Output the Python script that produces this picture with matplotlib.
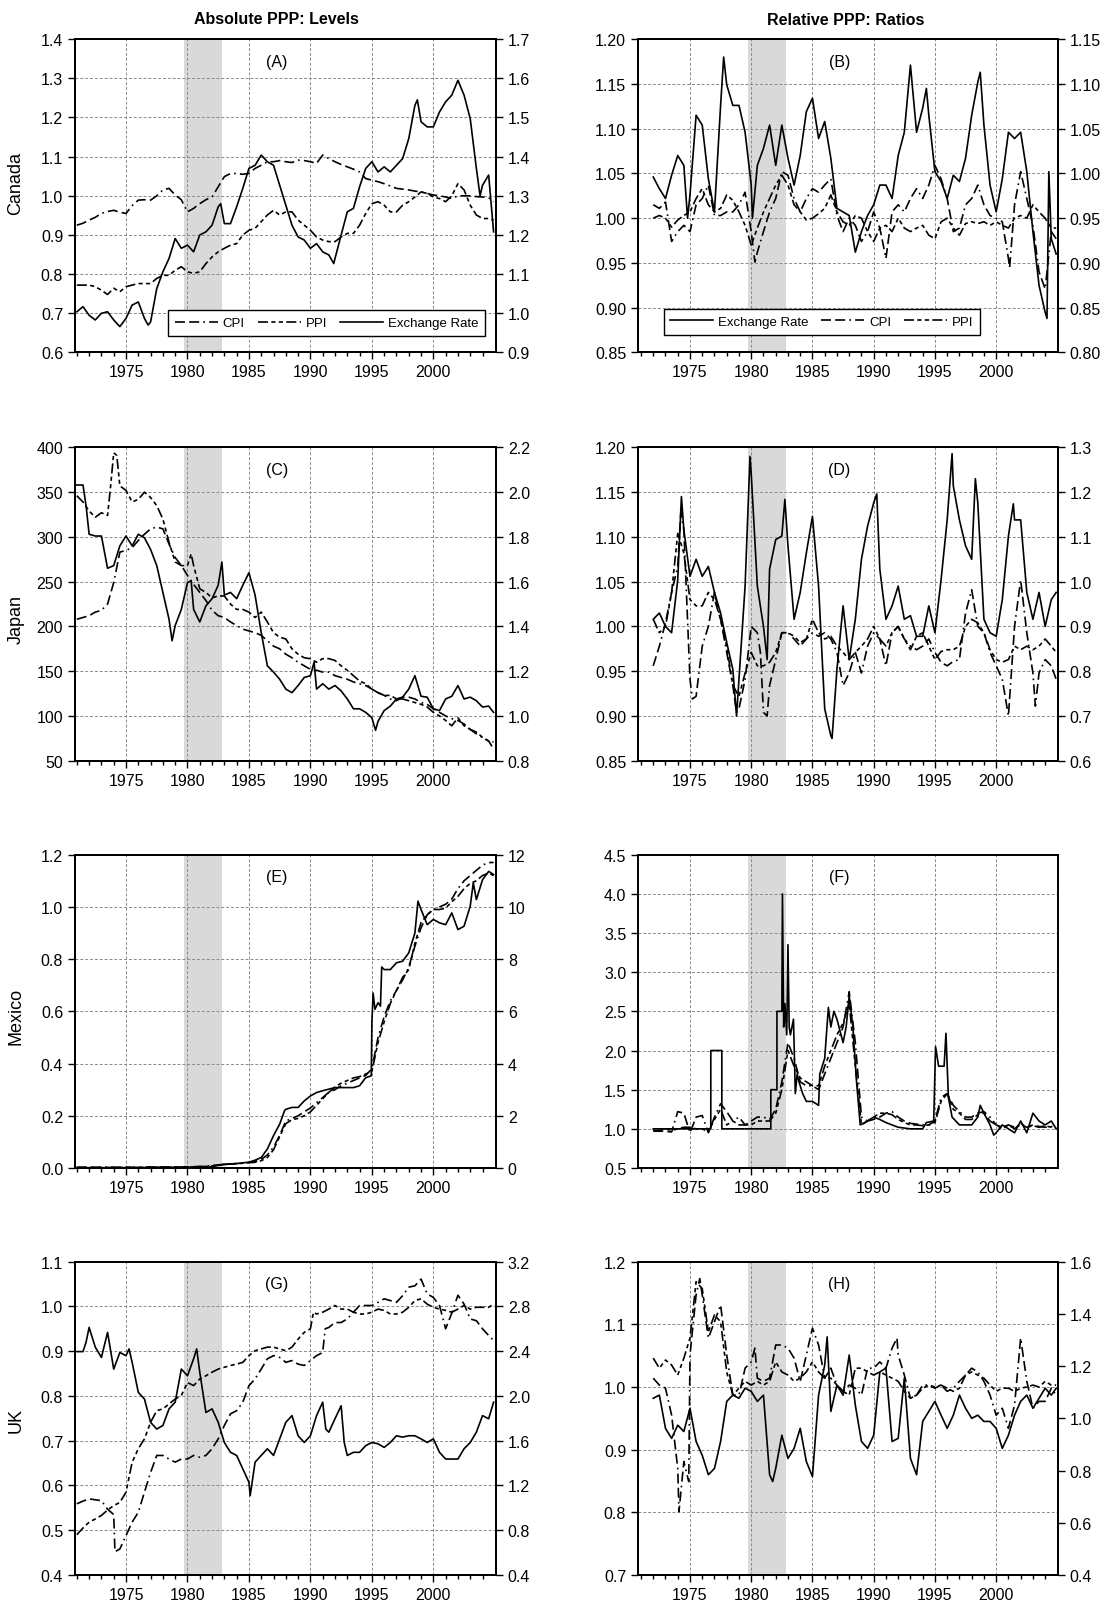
import numpy as np
import matplotlib
matplotlib.use('Agg')
import matplotlib.pyplot as plt
from matplotlib.ticker import FixedLocator, FormatStrFormatter

plt.rcParams['font.family'] = ['Liberation Sans', 'DejaVu Sans']

# time grids (half-yearly readings + last obs)
t_lev = np.append(np.arange(1971, 2005, 0.5), 2004.9)
t_rat = np.append(np.arange(1972, 2005, 0.5), 2004.9)

shade_start, shade_end = 1979.75, 1982.8

# ---------------- (A) Canada levels ----------------
ca_cpi = [0.925, 0.93, 0.938, 0.945, 0.955, 0.96, 0.963, 0.958, 0.955, 0.975,
          0.989, 0.99, 0.989, 1.0, 1.015, 1.019, 1.002, 0.99, 0.959, 0.968,
          0.98, 0.99, 0.997, 1.023, 1.049, 1.057, 1.057, 1.055, 1.057, 1.07,
          1.078, 1.087, 1.087, 1.09, 1.087, 1.085, 1.091, 1.09, 1.087, 1.083,
          1.104, 1.095, 1.087, 1.08, 1.074, 1.068, 1.061, 1.044, 1.04, 1.036,
          1.031, 1.025, 1.019, 1.017, 1.015, 1.012, 1.01, 1.006, 1.002, 1.0,
          0.997, 0.993, 1.0, 1.0, 1.0, 0.998, 0.997, 0.995, 0.985]
ca_ppi = [0.772, 0.772, 0.772, 0.768, 0.759, 0.748, 0.764, 0.755, 0.768, 0.772,
          0.776, 0.776, 0.776, 0.789, 0.797, 0.797, 0.81, 0.819, 0.806, 0.802,
          0.806, 0.827, 0.844, 0.857, 0.866, 0.874, 0.878, 0.9, 0.912, 0.917,
          0.934, 0.951, 0.963, 0.951, 0.959, 0.959, 0.938, 0.925, 0.912, 0.895,
          0.887, 0.883, 0.883, 0.895, 0.904, 0.904, 0.925, 0.955, 0.98, 0.985,
          0.976, 0.959, 0.959, 0.976, 0.985, 0.997, 1.01, 1.006, 0.997, 0.993,
          0.985, 1.0, 1.031, 1.015, 0.976, 0.951, 0.942, 0.942, 0.938]
ca_er = [1.004, 1.017, 0.995, 0.983, 1.0, 1.004, 0.983, 0.966, 0.987, 1.021,
         1.029, 0.987, 0.978, 1.063, 1.106, 1.14, 1.191, 1.166, 1.174, 1.157,
         1.2, 1.208, 1.225, 1.272, 1.229, 1.229, 1.272, 1.319, 1.37, 1.378,
         1.404, 1.387, 1.378, 1.327, 1.276, 1.225, 1.195, 1.187, 1.166, 1.178,
         1.157, 1.149, 1.14, 1.2, 1.259, 1.268, 1.323, 1.37, 1.387, 1.361,
         1.374, 1.361, 1.378, 1.395, 1.446, 1.531, 1.489, 1.476, 1.476, 1.514,
         1.54, 1.557, 1.595, 1.557, 1.497, 1.37, 1.327, 1.353, 1.208]
ca_er_extra = [(1976.8, 0.97), (1982.7, 1.28), (1991.9, 1.127), (1998.7, 1.545), (2003.8, 1.3)]

# ---------------- (B) Canada ratios ----------------
car_er = [1.046, 1.033, 1.022, 1.048, 1.07, 1.059, 1.026, 1.115, 1.104, 1.044,
          1.007, 1.126, 1.149, 1.126, 1.126, 1.096, 1.037, 1.059, 1.078, 1.104,
          1.059, 1.104, 1.067, 1.037, 1.07, 1.119, 1.134, 1.089, 1.108, 1.067,
          1.011, 1.007, 1.003, 0.962, 0.985, 1.003, 1.015, 1.037, 1.037, 1.022,
          1.07, 1.096, 1.171, 1.096, 1.123, 1.115, 1.052, 1.041, 1.022, 1.048,
          1.041, 1.067, 1.115, 1.152, 1.104, 1.037, 1.007, 1.044, 1.096, 1.089,
          1.096, 1.052, 0.985, 0.925, 0.895, 0.977, 0.96]
car_er_extra = [(1974.8, 1.0), (1977.75, 1.18), (1980.1, 1.0), (1994.3, 1.145),
                (1998.7, 1.163), (2004.15, 0.888), (2004.3, 1.052)]
car_cpi = [1.015, 1.011, 1.018, 0.974, 0.985, 0.992, 0.985, 1.015, 1.022, 1.037,
           1.003, 1.003, 1.007, 1.007, 1.015, 1.029, 0.985, 0.962, 0.985, 1.007,
           1.022, 1.052, 1.048, 1.022, 1.007, 1.022, 1.033, 1.029, 1.037, 1.044,
           1.003, 0.985, 1.0, 0.992, 0.974, 0.985, 1.007, 0.989, 0.955, 1.007,
           1.015, 1.007, 1.022, 1.033, 1.022, 1.037, 1.059, 1.044, 1.022, 0.985,
           0.989, 1.015, 1.022, 1.037, 1.015, 1.003, 1.0, 0.996, 0.955, 1.015,
           1.052, 1.022, 0.992, 0.94, 0.921, 0.985, 0.977]
car_cpi_extra = [(1980.3, 0.951), (2001.1, 0.945)]
car_ppi = [1.0, 1.003, 1.0, 0.99, 0.998, 1.003, 1.007, 1.022, 1.033, 1.015,
           1.007, 1.011, 1.026, 1.02, 1.007, 0.992, 0.97, 0.989, 1.007, 1.022,
           1.037, 1.048, 1.037, 1.015, 1.007, 0.998, 1.0, 1.005, 1.011, 1.026,
           1.007, 0.996, 0.992, 1.003, 1.0, 0.985, 0.974, 0.989, 0.992, 0.985,
           1.0, 0.989, 0.985, 0.989, 0.992, 0.981, 0.977, 0.996, 1.0, 0.989,
           0.981, 0.994, 0.996, 0.994, 0.996, 0.992, 0.996, 0.992, 0.989, 1.0,
           1.003, 1.0, 1.015, 1.007, 1.0, 0.989, 0.989]

# ---------------- (C) Japan levels ----------------
jp_er = [358, 358, 303, 301, 301, 265, 268, 290, 301, 290,
         303, 299, 286, 268, 238, 208, 201, 219, 249, 219,
         205, 223, 231, 246, 235, 238, 231, 246, 260, 235,
         193, 156, 149, 141, 130, 126, 134, 143, 145, 130,
         136, 130, 134, 128, 119, 108, 108, 104, 98, 94,
         106, 111, 119, 121, 130, 145, 122, 121, 108, 106,
         119, 122, 134, 119, 121, 117, 110, 111, 104]
jp_er_extra = [(1971.75, 335), (1978.75, 184), (1980.3, 251), (1982.8, 272),
               (1990.3, 160), (1995.3, 84)]
jp_ppi = [1.984, 1.956, 1.916, 1.888, 1.908, 1.896, 2.176, 2.028, 2.008, 1.956,
          1.968, 2.0, 1.976, 1.94, 1.88, 1.776, 1.688, 1.672, 1.672, 1.672,
          1.568, 1.552, 1.528, 1.536, 1.536, 1.5, 1.476, 1.476, 1.464, 1.44,
          1.464, 1.42, 1.372, 1.352, 1.344, 1.3, 1.276, 1.26, 1.256, 1.24,
          1.256, 1.256, 1.248, 1.224, 1.204, 1.18, 1.156, 1.144, 1.12, 1.104,
          1.092, 1.092, 1.076, 1.076, 1.068, 1.06, 1.052, 1.04, 1.016, 1.0,
          0.98, 0.956, 0.992, 0.956, 0.94, 0.928, 0.904, 0.888, 0.884]
jp_ppi_extra = [(1973.75, 2.028), (1974.25, 2.164), (1980.3, 1.724)]
jp_cpi = [1.432, 1.44, 1.448, 1.464, 1.472, 1.5, 1.596, 1.732, 1.74, 1.752,
          1.784, 1.812, 1.836, 1.844, 1.836, 1.768, 1.708, 1.672, 1.628, 1.588,
          1.552, 1.516, 1.472, 1.448, 1.44, 1.42, 1.404, 1.388, 1.38, 1.372,
          1.36, 1.336, 1.312, 1.3, 1.276, 1.26, 1.24, 1.224, 1.208, 1.204,
          1.196, 1.196, 1.18, 1.172, 1.164, 1.152, 1.144, 1.136, 1.12, 1.104,
          1.092, 1.076, 1.068, 1.084, 1.084, 1.076, 1.06, 1.052, 1.032, 1.016,
          1.0, 0.988, 0.98, 0.964, 0.94, 0.92, 0.904, 0.888, 0.852]

# ---------------- (D) Japan ratios ----------------
jpr_er = [1.008, 1.015, 1.0, 0.993, 1.052, 1.108, 1.056, 1.075, 1.056, 1.067,
          1.038, 1.015, 0.982, 0.952, 0.941, 1.045, 1.171, 1.045, 1.0, 1.064,
          1.097, 1.101, 1.09, 1.008, 1.038, 1.082, 1.123, 1.045, 0.908, 0.878,
          0.952, 1.023, 0.963, 1.008, 1.075, 1.112, 1.138, 1.064, 1.008, 1.023,
          1.045, 1.008, 1.012, 0.989, 0.989, 1.023, 0.993, 1.052, 1.119, 1.157,
          1.119, 1.09, 1.075, 1.138, 1.008, 0.993, 0.989, 1.03, 1.101, 1.119,
          1.119, 1.038, 1.008, 1.038, 1.0, 1.03, 1.038]
jpr_er_extra = [(1974.3, 1.145), (1978.8, 0.90), (1979.9, 1.19), (1981.3, 0.963),
                (1982.75, 1.142), (1986.6, 0.875), (1990.25, 1.148), (1996.4, 1.193),
                (1998.3, 1.165), (2001.4, 1.137)]
jpr_cpi = [0.956, 0.978, 1.004, 1.038, 1.067, 1.108, 0.941, 0.922, 0.978, 1.0,
           1.038, 1.008, 0.971, 0.934, 0.908, 0.941, 1.0, 0.993, 0.904, 0.934,
           0.963, 0.993, 0.993, 0.986, 0.978, 0.986, 0.993, 0.989, 0.993, 0.986,
           0.971, 0.934, 0.948, 0.971, 0.948, 0.978, 0.993, 0.986, 0.956, 0.993,
           1.0, 0.986, 0.978, 0.974, 0.978, 0.986, 0.971, 0.96, 0.956, 0.961,
           0.963, 1.015, 1.041, 1.0, 0.993, 0.971, 0.956, 0.941, 0.9, 1.0,
           1.052, 0.993, 0.948, 0.948, 0.963, 0.956, 0.941]
jpr_cpi_extra = [(1974.25, 1.127), (1975.2, 0.919), (1978.8, 0.904), (1980.75, 0.971),
                 (1981.3, 0.90), (2003.2, 0.911)]
jpr_ppi = [1.008, 0.993, 1.0, 1.038, 1.104, 1.082, 1.03, 1.023, 1.023, 1.038,
           1.03, 1.008, 0.978, 0.934, 0.922, 0.948, 0.971, 0.956, 0.956, 0.96,
           0.971, 0.993, 0.993, 0.989, 0.982, 0.986, 1.008, 0.993, 0.986, 0.989,
           0.978, 0.971, 0.963, 0.971, 0.978, 0.986, 1.0, 0.986, 0.978, 0.993,
           1.0, 0.986, 0.974, 0.989, 0.993, 0.978, 0.963, 0.972, 0.974, 0.974,
           0.978, 1.0, 1.008, 1.004, 0.993, 0.974, 0.963, 0.96, 0.963, 0.978,
           0.974, 0.978, 0.974, 0.978, 0.986, 0.978, 0.971]

# ---------------- (E) Mexico levels ----------------
mx_er = [0.0125, 0.0125, 0.0125, 0.0125, 0.0125, 0.0125, 0.0125, 0.0125, 0.0125, 0.0125,
         0.0125, 0.015, 0.0225, 0.0227, 0.0228, 0.0228, 0.0228, 0.0228, 0.0229, 0.023,
         0.0235, 0.025, 0.045, 0.1, 0.15, 0.15, 0.17, 0.2, 0.22, 0.3,
         0.4, 0.73, 1.24, 1.68, 2.25, 2.32, 2.32, 2.57, 2.76, 2.89,
         2.96, 3.02, 3.08, 3.08, 3.08, 3.08, 3.15, 3.46, 5.57, 6.33,
         7.6, 7.6, 7.86, 7.92, 8.24, 9.0, 9.9, 9.32, 9.52, 9.39,
         9.32, 9.77, 9.13, 9.26, 10.03, 10.28, 11.04, 11.36, 11.24]
mx_er_extra = [(1987.9, 2.2), (1994.95, 3.53), (1995.1, 6.7), (1995.25, 6.08),
               (1995.7, 6.2), (1995.8, 7.7), (1998.75, 10.22), (2003.25, 10.92)]
mx_cpi = [0.003, 0.003, 0.003, 0.003, 0.003, 0.003, 0.003, 0.003, 0.003, 0.003,
          0.003, 0.003, 0.004, 0.004, 0.004, 0.004, 0.004, 0.004, 0.004, 0.005,
          0.006, 0.007, 0.01, 0.012, 0.014, 0.016, 0.017, 0.019, 0.022, 0.025,
          0.033, 0.05, 0.08, 0.125, 0.18, 0.19, 0.2, 0.215, 0.23, 0.25,
          0.27, 0.29, 0.3, 0.315, 0.325, 0.335, 0.345, 0.355, 0.38, 0.5,
          0.58, 0.64, 0.68, 0.72, 0.77, 0.85, 0.92, 0.97, 0.99, 1.0,
          1.01, 1.03, 1.07, 1.1, 1.12, 1.14, 1.16, 1.17, 1.17]
mx_ppi = [0.002, 0.002, 0.002, 0.002, 0.002, 0.002, 0.002, 0.002, 0.002, 0.002,
          0.002, 0.003, 0.003, 0.003, 0.003, 0.003, 0.004, 0.004, 0.004, 0.004,
          0.005, 0.006, 0.008, 0.011, 0.013, 0.015, 0.017, 0.018, 0.02, 0.022,
          0.028, 0.04, 0.07, 0.12, 0.17, 0.185, 0.19, 0.2, 0.215, 0.24,
          0.265, 0.29, 0.31, 0.325, 0.335, 0.345, 0.35, 0.36, 0.37, 0.48,
          0.56, 0.63, 0.68, 0.73, 0.76, 0.86, 0.94, 0.97, 0.99, 0.99,
          0.995, 1.02, 1.04, 1.07, 1.09, 1.1, 1.12, 1.13, 1.12]

# ---------------- (F) Mexico ratios ----------------
mxr_er_years = [1972.0, 1976.7, 1976.7, 1977.6, 1977.6, 1981.6, 1981.6, 1982.1, 1982.1, 1982.5,
                1982.55, 1982.65, 1982.75, 1982.9, 1983.0, 1983.1, 1983.2, 1983.45, 1983.6, 1983.75,
                1983.9, 1984.2, 1984.5, 1985.0, 1985.5, 1985.6, 1986.0, 1986.3, 1986.5, 1986.75,
                1987.0, 1987.5, 1987.75, 1988.0, 1988.3, 1988.6, 1988.9, 1989.5, 1990.0, 1990.5,
                1991.0, 1991.5, 1992.0, 1993.0, 1994.0, 1994.3, 1994.9, 1995.05, 1995.3, 1995.75,
                1995.9, 1996.1, 1996.4, 1996.7, 1997.0, 1997.5, 1998.0, 1998.5, 1998.7, 1999.0,
                1999.5, 1999.8, 2000.0, 2000.5, 2001.0, 2001.5, 2002.0, 2002.5, 2003.0, 2003.5,
                2004.0, 2004.5, 2004.9]
mxr_er = [1.0, 1.0, 2.0, 2.0, 1.0, 1.0, 1.5, 1.5, 2.5, 2.5,
          4.0, 2.3, 2.6, 2.2, 3.35, 2.3, 2.2, 2.4, 1.45, 1.7,
          1.6, 1.45, 1.35, 1.35, 1.3, 1.7, 1.9, 2.55, 2.3, 2.5,
          2.4, 2.1, 2.3, 2.7, 2.3, 1.6, 1.05, 1.1, 1.15, 1.12,
          1.08, 1.05, 1.02, 1.0, 1.0, 1.08, 1.1, 2.05, 1.8, 1.8,
          2.22, 1.4, 1.15, 1.1, 1.05, 1.05, 1.05, 1.15, 1.3, 1.2,
          1.05, 0.92, 0.95, 1.05, 1.0, 0.95, 1.1, 0.95, 1.2, 1.1,
          1.05, 1.1, 1.0]
mxr_cpi = [0.97, 0.97, 0.97, 0.96, 1.22, 1.2, 0.95, 1.15, 1.17, 0.95,
           1.15, 1.32, 1.22, 1.1, 1.15, 1.05, 1.1, 1.15, 1.15, 1.12,
           1.25, 1.6, 2.1, 1.9, 1.6, 1.55, 1.55, 1.5, 1.7, 1.9,
           2.1, 2.3, 2.75, 2.1, 1.15, 1.1, 1.12, 1.15, 1.2, 1.22,
           1.15, 1.1, 1.07, 1.06, 1.05, 1.05, 1.1, 1.4, 1.45, 1.3,
           1.22, 1.15, 1.15, 1.2, 1.22, 1.15, 1.05, 1.02, 1.05, 1.02,
           1.05, 1.02, 1.05, 1.03, 1.02, 1.03, 1.02]
mxr_ppi = [0.98, 0.98, 1.0, 0.98, 1.0, 1.02, 1.02, 1.0, 1.0, 0.96,
           1.12, 1.25, 1.05, 1.1, 1.05, 1.05, 1.05, 1.1, 1.1, 1.1,
           1.2, 1.5, 2.0, 1.8, 1.65, 1.6, 1.55, 1.55, 1.8, 2.0,
           2.2, 2.35, 2.6, 1.8, 1.05, 1.1, 1.15, 1.2, 1.2, 1.18,
           1.12, 1.08, 1.05, 1.05, 1.04, 1.05, 1.08, 1.35, 1.45, 1.25,
           1.2, 1.12, 1.12, 1.18, 1.2, 1.1, 1.05, 1.0, 1.05, 1.0,
           1.07, 1.02, 1.04, 1.02, 1.04, 1.02, 1.01]

# ---------------- (G) UK levels ----------------
uk_er = [2.396, 2.396, 2.612, 2.436, 2.344, 2.568, 2.24, 2.388, 2.36, 2.30,
         2.032, 1.972, 1.764, 1.704, 1.736, 1.884, 1.944, 2.24, 2.18, 2.332,
         2.212, 1.852, 1.884, 1.764, 1.584, 1.496, 1.468, 1.348, 1.228, 1.408,
         1.468, 1.528, 1.468, 1.616, 1.764, 1.824, 1.644, 1.584, 1.644, 1.824,
         1.944, 1.676, 1.796, 1.912, 1.468, 1.496, 1.496, 1.556, 1.584, 1.572,
         1.54, 1.584, 1.644, 1.632, 1.644, 1.644, 1.616, 1.584, 1.616, 1.496,
         1.436, 1.436, 1.436, 1.528, 1.584, 1.676, 1.824, 1.796, 1.944]
uk_er_extra = [(1971.75, 2.48), (1975.25, 2.42), (1980.75, 2.42), (1985.1, 1.108),
               (1991.25, 1.704), (1992.75, 1.584)]
uk_cpi = [0.559, 0.565, 0.57, 0.568, 0.566, 0.547, 0.535, 0.458, 0.488, 0.518,
          0.54, 0.585, 0.629, 0.667, 0.667, 0.659, 0.652, 0.659, 0.659, 0.667,
          0.663, 0.667, 0.682, 0.704, 0.734, 0.76, 0.767, 0.786, 0.823, 0.838,
          0.86, 0.883, 0.89, 0.886, 0.875, 0.879, 0.871, 0.868, 0.879, 0.89,
          0.897, 0.953, 0.964, 0.964, 0.972, 0.987, 1.002, 1.002, 1.002, 1.009,
          1.017, 1.013, 1.009, 1.024, 1.043, 1.046, 1.061, 1.028, 1.02, 1.002,
          0.95, 0.985, 1.025, 1.005, 0.972, 0.968, 0.95, 0.935, 0.924]
uk_cpi_extra = [(1974.1, 0.452), (1991.2, 0.95)]
uk_ppi = [0.49, 0.505, 0.518, 0.525, 0.533, 0.545, 0.555, 0.562, 0.585, 0.652,
          0.682, 0.704, 0.741, 0.767, 0.771, 0.782, 0.793, 0.801, 0.83, 0.823,
          0.838, 0.845, 0.853, 0.86, 0.864, 0.868, 0.871, 0.875, 0.89, 0.901,
          0.905, 0.909, 0.909, 0.905, 0.901, 0.909, 0.927, 0.942, 0.95, 0.983,
          0.987, 0.994, 1.002, 0.994, 0.994, 0.987, 0.983, 0.983, 0.987, 0.994,
          0.991, 0.983, 0.983, 0.987, 0.998, 1.013, 1.017, 1.005, 0.998, 0.994,
          0.991, 0.987, 0.994, 1.002, 0.994, 0.998, 0.998, 0.998, 1.005]
uk_ppi_extra = [(1990.25, 0.987)]

# ---------------- (H) UK ratios ----------------
ukr_er = [0.982, 0.987, 0.934, 0.918, 0.939, 0.929, 0.966, 0.913, 0.891, 0.86,
          0.87, 0.913, 0.977, 0.987, 0.982, 0.998, 0.993, 0.977, 0.987, 0.86,
          0.87, 0.923, 0.886, 0.902, 0.934, 0.881, 0.857, 0.987, 1.035, 0.961,
          1.003, 0.987, 1.051, 0.971, 0.913, 0.902, 0.923, 1.024, 1.03, 0.913,
          0.918, 1.014, 0.886, 0.86, 0.945, 0.961, 0.977, 0.955, 0.934, 0.955,
          0.987, 0.966, 0.95, 0.955, 0.945, 0.945, 0.934, 0.902, 0.923, 0.955,
          0.977, 0.987, 0.966, 0.982, 0.998, 0.987, 0.998]
ukr_er_extra = [(1981.75, 0.849), (1986.2, 1.08)]
ukr_cpi = [1.014, 1.003, 0.998, 0.955, 0.87, 0.881, 1.051, 1.147, 1.147, 1.078,
           1.104, 1.131, 1.051, 0.987, 0.987, 1.03, 1.04, 1.014, 1.009, 1.014,
           1.067, 1.067, 1.062, 1.046, 1.009, 1.051, 1.094, 1.067, 1.014, 1.03,
           1.003, 0.993, 1.003, 0.998, 0.987, 1.03, 1.03, 1.04, 1.03, 1.062,
           1.051, 1.019, 0.982, 0.987, 1.003, 1.003, 0.998, 1.003, 0.993, 0.998,
           1.009, 1.019, 1.03, 1.024, 1.009, 0.987, 0.955, 0.966, 0.934, 0.971,
           1.078, 1.009, 0.966, 0.977, 0.977, 0.998, 0.987]
ukr_cpi_extra = [(1974.1, 0.801), (1974.9, 0.849), (1975.8, 1.173), (1980.3, 1.062), (1991.9, 1.078)]
ukr_ppi = [1.046, 1.03, 1.043, 1.035, 1.019, 1.046, 1.078, 1.168, 1.157, 1.088,
           1.115, 1.104, 1.024, 0.987, 0.998, 1.009, 1.003, 1.009, 1.003, 1.009,
           1.04, 1.024, 1.019, 1.009, 1.014, 1.024, 1.04, 1.024, 1.014, 1.014,
           1.003, 0.993, 0.987, 1.03, 1.03, 1.024, 1.019, 1.024, 1.019, 1.014,
           1.009, 0.993, 0.982, 0.987, 0.998, 1.003, 1.0, 1.003, 0.998, 0.993,
           0.998, 1.019, 1.024, 1.019, 1.014, 1.003, 0.993, 0.998, 0.998, 0.993,
           0.998, 1.0, 1.003, 1.0, 1.009, 1.003, 1.003]

STYLES = {
    'er': dict(linestyle='-'),
    'cpi': dict(dashes=(6, 2.5, 6, 2.5, 1, 2.5)),
    'ppi': dict(dashes=(6, 2, 2.5, 2, 2.5, 2)),
}
NAMES = {'er': 'Exchange Rate', 'cpi': 'CPI', 'ppi': 'PPI'}


def draw(ax, t, v, kind, extra=()):
    if extra:
        pts = sorted(list(zip(t, v)) + list(extra))
        t = [p[0] for p in pts]
        v = [p[1] for p in pts]
    line, = ax.plot(t, v, color='black', lw=1.2, label=NAMES[kind], **STYLES[kind])
    return line


def ticks(lo, hi, step):
    return np.round(np.arange(lo, hi + step / 2, step), 4)


def style_axis(ax):
    ax.tick_params(which='both', direction='out', labelsize=11.5)
    ax.tick_params(which='major', length=5, width=1)
    ax.tick_params(which='minor', length=3, width=1)
    for s in ax.spines.values():
        s.set_linewidth(1.4)


def make_panel(rect, xlim, left, right, tag):
    ax = fig.add_axes(rect)
    ax.set_xlim(*xlim)
    ax.xaxis.set_major_locator(FixedLocator([1975, 1980, 1985, 1990, 1995, 2000]))
    ax.xaxis.set_minor_locator(FixedLocator(list(range(1971, 2005))))
    ax.xaxis.set_major_formatter(FormatStrFormatter('%d'))
    lo, hi, st, fmt = left
    ax.set_ylim(lo, hi)
    ax.yaxis.set_major_locator(FixedLocator(ticks(lo, hi, st)))
    ax.yaxis.set_major_formatter(FormatStrFormatter(fmt))
    ax.grid(True, which='major', color='#8a8a8a', linestyle=(0, (3, 2)), linewidth=0.7)
    ax.axvspan(shade_start, shade_end, color='#d9d9d9', lw=0, zorder=0)
    style_axis(ax)
    ax2 = None
    if right is not None:
        ax2 = ax.twinx()
        lo, hi, st, fmt = right
        ax2.set_ylim(lo, hi)
        ax2.yaxis.set_major_locator(FixedLocator(ticks(lo, hi, st)))
        ax2.yaxis.set_major_formatter(FormatStrFormatter(fmt))
        style_axis(ax2)
    ax.text(0.48, 0.93, tag, transform=ax.transAxes, ha='center', va='center',
            fontsize=11.5, zorder=5)
    return ax, ax2


def add_legend(ax, handles, labels, loc, anchor):
    leg = ax.legend(handles, labels, ncol=3, loc=loc, bbox_to_anchor=anchor,
                    fontsize=9.5, handlelength=3.25, handletextpad=0.35, columnspacing=1.0,
                    fancybox=False, edgecolor='black', framealpha=1, borderpad=0.5,
                    borderaxespad=0.0)
    leg.get_frame().set_linewidth(1.0)


fig = plt.figure(figsize=(11.06, 16.06), dpi=100)

LX, LW = 0.0678, 0.3807
RX, RW = 0.5769, 0.3795
ROWS = [0.7799, 0.5257, 0.2721, 0.0187]
H = 0.1951
XL = (1970.85, 2005.1)
XR = (1970.76, 2005.03)

# (A)
ax, ax2 = make_panel([LX, ROWS[0], LW, H], XL, (0.6, 1.4, 0.1, '%.1f'), (0.9, 1.7, 0.1, '%.1f'), '(A)')
h_cpi = draw(ax, t_lev, ca_cpi, 'cpi')
h_ppi = draw(ax, t_lev, ca_ppi, 'ppi')
h_er = draw(ax2, t_lev, ca_er, 'er', ca_er_extra)
add_legend(ax2, [h_cpi, h_ppi, h_er], ['CPI', 'PPI', 'Exchange Rate'], 'lower right', (0.973, 0.053))

# (B)
ax, ax2 = make_panel([RX, ROWS[0], RW, H], XR, (0.85, 1.20, 0.05, '%.2f'), (0.80, 1.15, 0.05, '%.2f'), '(B)')
h_er = draw(ax, t_rat, car_er, 'er', car_er_extra)
h_cpi = draw(ax, t_rat, car_cpi, 'cpi', car_cpi_extra)
h_ppi = draw(ax, t_rat, car_ppi, 'ppi')
add_legend(ax2, [h_er, h_cpi, h_ppi], ['Exchange Rate', 'CPI', 'PPI'], 'lower left', (0.061, 0.057))

# (C)
ax, ax2 = make_panel([LX, ROWS[1], LW, H], XL, (50, 400, 50, '%d'), (0.8, 2.2, 0.2, '%.1f'), '(C)')
draw(ax, t_lev, jp_er, 'er', jp_er_extra)
draw(ax2, t_lev, jp_ppi, 'ppi', jp_ppi_extra)
draw(ax2, t_lev, jp_cpi, 'cpi')

# (D)
ax, ax2 = make_panel([RX, ROWS[1], RW, H], XR, (0.85, 1.20, 0.05, '%.2f'), (0.6, 1.3, 0.1, '%.1f'), '(D)')
draw(ax, t_rat, jpr_er, 'er', jpr_er_extra)
draw(ax, t_rat, jpr_cpi, 'cpi', jpr_cpi_extra)
draw(ax, t_rat, jpr_ppi, 'ppi')

# (E)
ax, ax2 = make_panel([LX, ROWS[2], LW, H], XL, (0.0, 1.2, 0.2, '%.1f'), (0, 12, 2, '%d'), '(E)')
draw(ax, t_lev, mx_cpi, 'cpi')
draw(ax, t_lev, mx_ppi, 'ppi')
draw(ax2, t_lev, mx_er, 'er', mx_er_extra)

# (F)
ax, ax2 = make_panel([RX, ROWS[2], RW, H], XR, (0.5, 4.5, 0.5, '%.1f'), None, '(F)')
draw(ax, mxr_er_years, mxr_er, 'er')
draw(ax, t_rat, mxr_cpi, 'cpi')
draw(ax, t_rat, mxr_ppi, 'ppi')

# (G)
ax, ax2 = make_panel([LX, ROWS[3], LW, H], XL, (0.4, 1.1, 0.1, '%.1f'), (0.4, 3.2, 0.4, '%.1f'), '(G)')
draw(ax, t_lev, uk_cpi, 'cpi', uk_cpi_extra)
draw(ax, t_lev, uk_ppi, 'ppi', uk_ppi_extra)
draw(ax2, t_lev, uk_er, 'er', uk_er_extra)

# (H)
ax, ax2 = make_panel([RX, ROWS[3], RW, H], XR, (0.7, 1.2, 0.1, '%.1f'), (0.4, 1.6, 0.2, '%.1f'), '(H)')
draw(ax, t_rat, ukr_er, 'er', ukr_er_extra)
draw(ax, t_rat, ukr_cpi, 'cpi', ukr_cpi_extra)
draw(ax, t_rat, ukr_ppi, 'ppi')

# column titles and row labels
fig.text(0.2503, 0.988, 'Absolute PPP: Levels', ha='center', va='center', fontsize=11.5, fontweight='bold')
fig.text(0.765, 0.987, 'Relative PPP: Ratios', ha='center', va='center', fontsize=11.5, fontweight='bold')
for name, yc in [('Canada', 0.886), ('Japan', 0.614), ('Mexico', 0.367), ('UK', 0.1158)]:
    fig.text(0.0145, yc, name, rotation=90, ha='center', va='center', fontsize=13)

fig.savefig('out.png', dpi=100)
